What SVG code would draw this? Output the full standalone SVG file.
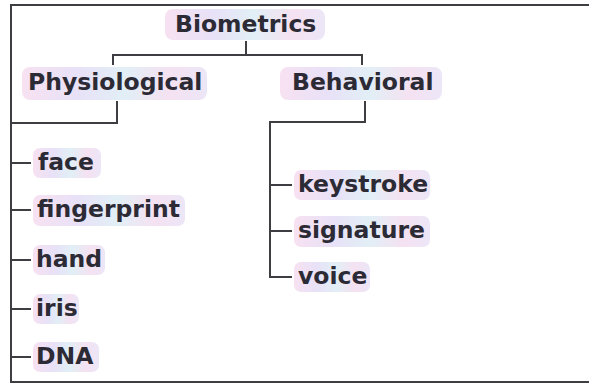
<svg xmlns="http://www.w3.org/2000/svg" width="589" height="387" viewBox="0 0 589 387">
  <defs>
    <linearGradient id="pastel" x1="0" y1="0" x2="1" y2="0">
      <stop offset="0" stop-color="#f6dcef"/>
      <stop offset="0.3" stop-color="#e4dcf6"/>
      <stop offset="0.55" stop-color="#dcecf4"/>
      <stop offset="0.8" stop-color="#f3dcef"/>
      <stop offset="1" stop-color="#e8e2f6"/>
    </linearGradient>
    <style>
      .box { fill: url(#pastel); opacity: 0.85; }
      .lbl { font-family: "DejaVu Sans", Verdana, sans-serif; font-weight: bold; font-size: 23.5px; fill: #2c2b35; }
      .ln { stroke: #3e3e42; stroke-width: 2; fill: none; }
    </style>
  </defs>
  <rect width="589" height="387" fill="#ffffff"/>

  <g id="connectors">
    <path class="ln" d="M589,5 H11 V382 H589"/>
    <path class="ln" d="M246,41 V55 M113,65 V55 H362 V65"/>
    <path class="ln" d="M117,101 V123 H11"/>
    <path class="ln" d="M11,163 H31 M11,210 H31 M11,260 H31 M11,309 H31 M11,357 H31"/>
    <path class="ln" d="M365,101 V122 H270 V277 H292 M270,185 H292 M270,231 H292"/>
  </g>

  <g id="biometrics">
    <rect class="box" x="165" y="9" width="160" height="31" rx="8"/>
    <text class="lbl" x="175" y="32">Biometrics</text>
  </g>
  <g id="physiological">
    <rect class="box" x="22" y="67" width="185" height="33" rx="8"/>
    <text class="lbl" x="28" y="90">Physiological</text>
  </g>
  <g id="behavioral">
    <rect class="box" x="280" y="67" width="162" height="33" rx="8"/>
    <text class="lbl" x="292" y="90">Behavioral</text>
  </g>

  <g id="face">
    <rect class="box" x="33" y="148" width="68" height="30" rx="7"/>
    <text class="lbl" x="38" y="170">face</text>
  </g>
  <g id="fingerprint">
    <rect class="box" x="33" y="195" width="152" height="31" rx="7"/>
    <text class="lbl" x="37" y="217">fingerprint</text>
  </g>
  <g id="hand">
    <rect class="box" x="33" y="245" width="72" height="30" rx="7"/>
    <text class="lbl" x="36" y="267">hand</text>
  </g>
  <g id="iris">
    <rect class="box" x="33" y="294" width="46" height="30" rx="7"/>
    <text class="lbl" x="36" y="316">iris</text>
  </g>
  <g id="dna">
    <rect class="box" x="33" y="342" width="66" height="30" rx="7"/>
    <text class="lbl" x="36" y="364">DNA</text>
  </g>

  <g id="keystroke">
    <rect class="box" x="294" y="170" width="136" height="30" rx="7"/>
    <text class="lbl" x="298" y="192">keystroke</text>
  </g>
  <g id="signature">
    <rect class="box" x="294" y="216" width="136" height="31" rx="7"/>
    <text class="lbl" x="298" y="238">signature</text>
  </g>
  <g id="voice">
    <rect class="box" x="294" y="262" width="76" height="30" rx="7"/>
    <text class="lbl" x="298" y="284">voice</text>
  </g>
</svg>
